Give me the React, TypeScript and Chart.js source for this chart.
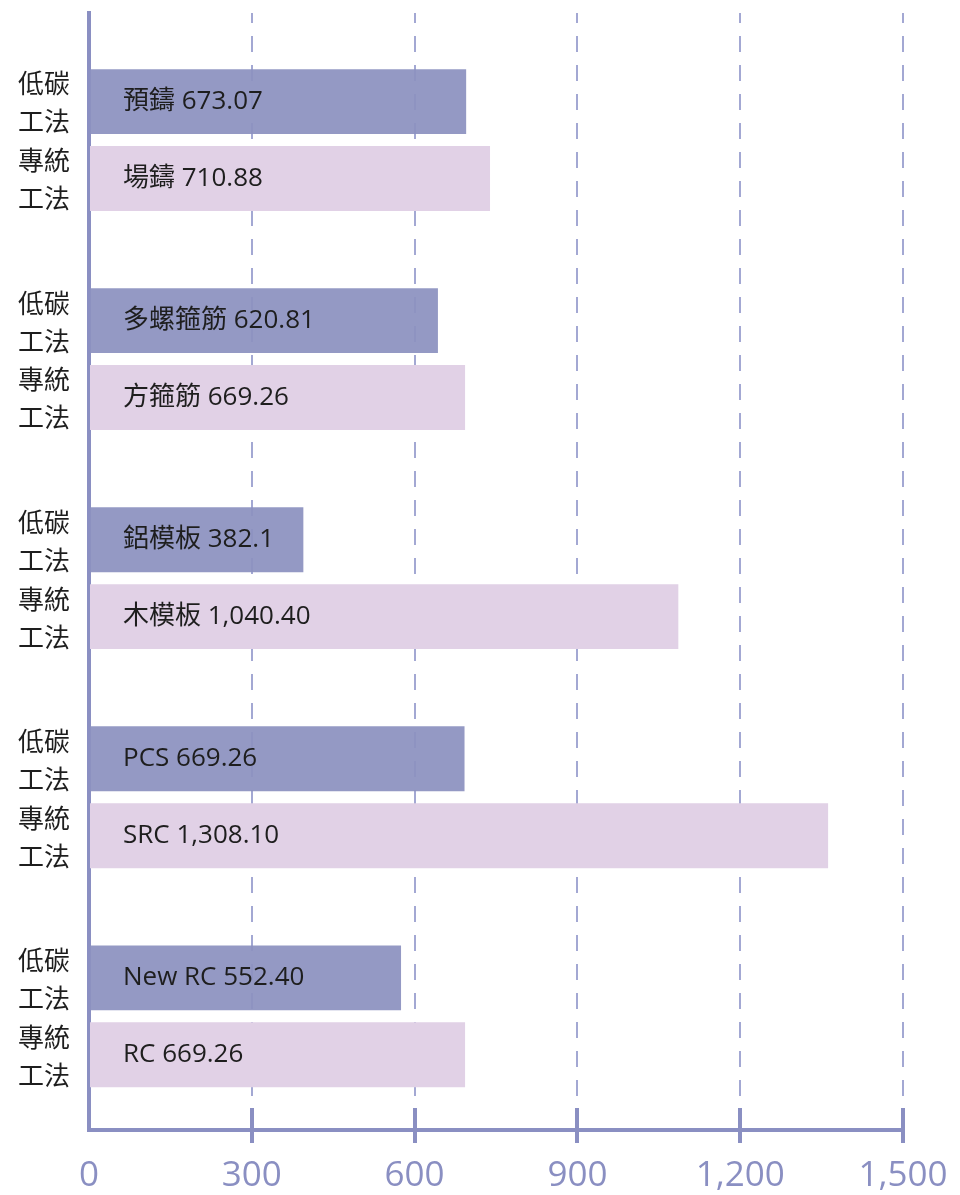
import React, { useEffect, useRef } from 'react';
import { Chart, registerables } from 'chart.js';

Chart.register(...registerables);

// group index (category slots, top to bottom)
const groups = [0, 1, 2, 3, 4];

// low-carbon method (top bar of each pair)
const lowNames = ['預鑄', '多螺箍筋', '鋁模板', 'PCS', 'New RC'];
const lowLabelValues = ['673.07', '620.81', '382.1', '669.26', '552.40'];
const lowBarValues = [695, 643, 395, 692, 575];

// traditional method (bottom bar of each pair)
const tradNames = ['場鑄', '方箍筋', '木模板', 'SRC', 'RC'];
const tradLabelValues = ['710.88', '669.26', '1,040.40', '1,308.10', '669.26'];
const tradBarValues = [739, 693, 1086, 1362, 693];

// side labels
const lowSide = ['低碳', '工法'];
const tradSide = ['專統', '工法'];

// x axis ticks
const xTicks = [0, 300, 600, 900, 1200, 1500];

const AXIS = '#8a8fc2';
const GRID = '#a3a8d3';
const LOW = 'rgba(140,145,192,0.93)';
const TRAD = '#e1d1e6';

export default function App() {
  const ref = useRef<HTMLCanvasElement>(null);

  useEffect(() => {
    if (!ref.current) return;

    const labelPlugin = {
      id: 'barLabels',
      afterDatasetsDraw(chart: any) {
        const ctx = chart.ctx;
        const area = chart.chartArea;
        ctx.save();
        chart.data.datasets.forEach((_ds: any, di: number) => {
          const meta = chart.getDatasetMeta(di);
          meta.data.forEach((el: any, i: number) => {
            const text =
              di === 0
                ? `${lowNames[i]} ${lowLabelValues[i]}`
                : `${tradNames[i]} ${tradLabelValues[i]}`;
            ctx.fillStyle = '#1e1e1e';
            ctx.font = '26px "Open Sans", "Noto Sans CJK TC", sans-serif';
            ctx.textAlign = 'left';
            ctx.textBaseline = 'middle';
            ctx.fillText(text, area.left + 34, el.y);

            const side = di === 0 ? lowSide : tradSide;
            ctx.font = '26px "Noto Sans CJK TC", sans-serif';
            ctx.textAlign = 'center';
            ctx.fillText(side[0], 36, el.y - 18);
            ctx.fillText(side[1], 36, el.y + 20);
          });
        });
        ctx.restore();
      },
      afterDraw(chart: any) {
        const ctx = chart.ctx;
        const xs = chart.scales.x;
        const bottom = chart.chartArea.bottom;
        ctx.save();
        ctx.strokeStyle = AXIS;
        ctx.lineWidth = 4;
        xTicks.slice(1).forEach((v) => {
          const px = Math.round(xs.getPixelForValue(v));
          ctx.beginPath();
          ctx.moveTo(px, bottom - 22);
          ctx.lineTo(px, bottom + 13);
          ctx.stroke();
        });
        ctx.restore();
      },
    };

    const chart = new Chart(ref.current, {
      type: 'bar',
      data: {
        datasets: [
          {
            label: '低碳工法',
            data: groups.map((g, i) => ({ x: lowBarValues[i], y: g })),
            backgroundColor: LOW,
            borderWidth: 0,
            categoryPercentage: 0.702,
            barPercentage: 0.844,
          },
          {
            label: '專統工法',
            data: groups.map((g, i) => ({ x: tradBarValues[i], y: g })),
            backgroundColor: TRAD,
            borderWidth: 0,
            categoryPercentage: 0.702,
            barPercentage: 0.844,
          },
        ] as any,
      },
      options: {
        indexAxis: 'y',
        animation: false,
        responsive: true,
        maintainAspectRatio: false,
        layout: { padding: { top: 5, right: 49, left: 0, bottom: 0 } },
        plugins: {
          legend: { display: false },
          tooltip: { enabled: false },
        },
        scales: {
          x: {
            type: 'linear',
            min: xTicks[0],
            max: xTicks[xTicks.length - 1],
            afterFit(s: any) {
              s.height = 65;
              s.paddingLeft = 0;
              s.paddingRight = 0;
            },
            ticks: {
              stepSize: 300,
              color: AXIS,
              padding: 25,
              font: { family: '"Open Sans", sans-serif', size: 35 },
              callback: (v: any) => Number(v).toLocaleString('en-US'),
            },
            grid: {
              color: GRID,
              lineWidth: 2,
              drawTicks: false,
            },
            border: {
              display: true,
              color: AXIS,
              width: 4,
              dash: [16, 13],
              dashOffset: 6,
            },
          },
          y: {
            type: 'linear',
            reverse: true,
            offset: false,
            min: -0.58,
            max: 4.519,
            afterFit(s: any) {
              s.width = 81;
              s.paddingTop = 0;
              s.paddingBottom = 0;
            },
            ticks: { display: false, stepSize: 1, includeBounds: false },
            grid: { display: false, drawTicks: false, offset: false },
            border: { display: true, color: AXIS, width: 4 },
          },
        },
      } as any,
      plugins: [labelPlugin],
    });

    return () => chart.destroy();
  }, []);

  return (
    <div style={{ position: 'relative', width: 944, height: 1187 }}>
      <canvas ref={ref} />
    </div>
  );
}
